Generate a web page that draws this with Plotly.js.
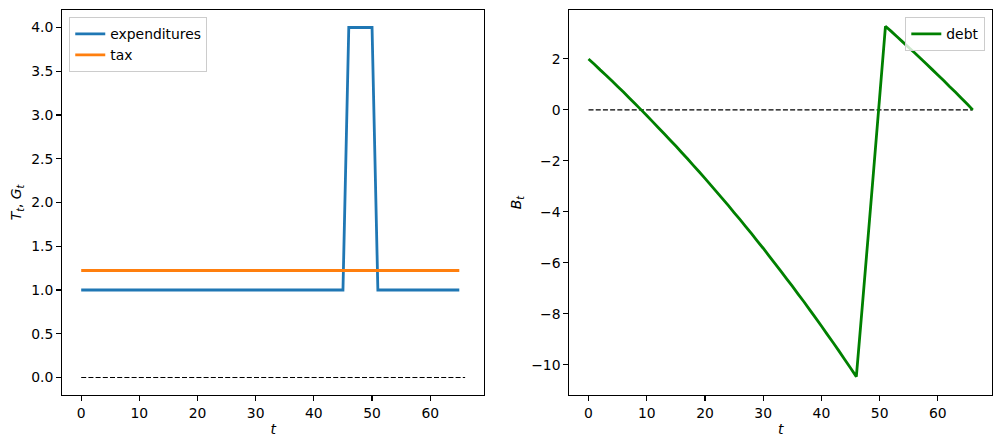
<!DOCTYPE html>
<html>
<head>
<meta charset="utf-8">
<script src="https://cdn.plot.ly/plotly-3.0.1.min.js"></script>
<style>
  body { margin: 0; background: #fff; }
  #chart { width: 1001px; height: 448px; }
</style>
</head>
<body>
<div id="chart"></div>
<script>
// government spending and tax, t = 0..65
var expenditures = [
  1, 1, 1, 1, 1, 1, 1, 1, 1, 1,
  1, 1, 1, 1, 1, 1, 1, 1, 1, 1,
  1, 1, 1, 1, 1, 1, 1, 1, 1, 1,
  1, 1, 1, 1, 1, 1, 1, 1, 1, 1,
  1, 1, 1, 1, 1, 1, 4, 4, 4, 4,
  4, 1, 1, 1, 1, 1, 1, 1, 1, 1,
  1, 1, 1, 1, 1, 1
];
var tax = [
  1.223, 1.223, 1.223, 1.223, 1.223, 1.223, 1.223, 1.223, 1.223, 1.223,
  1.223, 1.223, 1.223, 1.223, 1.223, 1.223, 1.223, 1.223, 1.223, 1.223,
  1.223, 1.223, 1.223, 1.223, 1.223, 1.223, 1.223, 1.223, 1.223, 1.223,
  1.223, 1.223, 1.223, 1.223, 1.223, 1.223, 1.223, 1.223, 1.223, 1.223,
  1.223, 1.223, 1.223, 1.223, 1.223, 1.223, 1.223, 1.223, 1.223, 1.223,
  1.223, 1.223, 1.223, 1.223, 1.223, 1.223, 1.223, 1.223, 1.223, 1.223,
  1.223, 1.223, 1.223, 1.223, 1.223, 1.223
];
// debt, t = 0..66
var debt = [
  2.00, 1.79, 1.57, 1.36, 1.14, 0.92, 0.70, 0.47, 0.24, 0.01,
  -0.22, -0.46, -0.70, -0.94, -1.18, -1.42, -1.67, -1.92, -2.18, -2.43,
  -2.69, -2.95, -3.22, -3.48, -3.75, -4.03, -4.30, -4.58, -4.86, -5.15,
  -5.43, -5.73, -6.02, -6.32, -6.62, -6.92, -7.23, -7.53, -7.85, -8.16,
  -8.48, -8.81, -9.13, -9.46, -9.80, -10.13, -10.47, -7.77, -5.04, -2.29,
  0.49, 3.28, 3.08, 2.87, 2.66, 2.45, 2.24, 2.03, 1.81, 1.59,
  1.37, 1.15, 0.92, 0.70, 0.47, 0.24, 0.00
];
var zeroT = [0, 66];
var zeroY = [0, 0];

var font = { family: 'DejaVu Sans, sans-serif', size: 13.9, color: '#000' };
var dashStyle = { color: '#000', width: 1.2, dash: '5px,2.2px' };

var data = [
  { y: expenditures, x0: 0, dx: 1, type: 'scatter', mode: 'lines', name: 'expenditures',
    line: { color: '#1f77b4', width: 2.8, simplify: false }, xaxis: 'x', yaxis: 'y', legend: 'legend' },
  { y: tax, x0: 0, dx: 1, type: 'scatter', mode: 'lines', name: 'tax',
    line: { color: '#ff7f0e', width: 2.8, simplify: false }, xaxis: 'x', yaxis: 'y', legend: 'legend' },
  { x: zeroT, y: zeroY, type: 'scatter', mode: 'lines', showlegend: false,
    line: dashStyle, xaxis: 'x', yaxis: 'y' },
  { x: zeroT, y: zeroY, type: 'scatter', mode: 'lines', showlegend: false,
    line: dashStyle, xaxis: 'x2', yaxis: 'y2' },
  { y: debt, x0: 0, dx: 1, type: 'scatter', mode: 'lines', name: 'debt',
    line: { color: '#008000', width: 2.8, simplify: false }, xaxis: 'x2', yaxis: 'y2', legend: 'legend2' }
];

var axisBase = {
  showgrid: false, zeroline: false, showline: true, mirror: true,
  linecolor: '#000', linewidth: 1.1, ticks: 'outside', ticklen: 4.9,
  tickwidth: 1.1, tickcolor: '#000', tickfont: font
};

function ax(extra) { return Object.assign({}, axisBase, extra); }

var legendBase = {
  bgcolor: 'rgba(255,255,255,0.8)', bordercolor: '#cccccc', borderwidth: 1,
  font: font, yanchor: 'top', tracegroupgap: 0
};

var layout = {
  width: 1001, height: 448,
  paper_bgcolor: '#fff', plot_bgcolor: '#fff',
  font: font,
  margin: { l: 62, r: 9, t: 10, b: 52.7 },
  xaxis: ax({ domain: [0, 0.4541], range: [-3.3, 69.3], dtick: 10, tick0: 0, anchor: 'y',
    title: { text: '<i>t</i>', font: font, standoff: 4 } }),
  yaxis: ax({ domain: [0, 1], range: [-0.2, 4.2], dtick: 0.5, tick0: 0, tickformat: '.1f', anchor: 'x',
    title: { text: '<i>T</i><sub><i>t</i></sub>, <i>G</i><sub><i>t</i></sub>', font: font, standoff: 6 } }),
  xaxis2: ax({ domain: [0.5455, 1], range: [-3.3, 69.3], dtick: 10, tick0: 0, anchor: 'y2',
    title: { text: '<i>t</i>', font: font, standoff: 4 } }),
  yaxis2: ax({ domain: [0, 1], range: [-11.19, 3.92], dtick: 2, tick0: 0, anchor: 'x2',
    title: { text: '<i>B</i><sub><i>t</i></sub>', font: font, standoff: 6 } }),
  legend: Object.assign({}, legendBase, { x: 0.0078, xanchor: 'left', y: 0.981 }),
  legend2: Object.assign({}, legendBase, { x: 0.9928, xanchor: 'right', y: 0.981 }),
  showlegend: true
};

Plotly.newPlot('chart', data, layout, { displayModeBar: false, staticPlot: true });
</script>
</body>
</html>
